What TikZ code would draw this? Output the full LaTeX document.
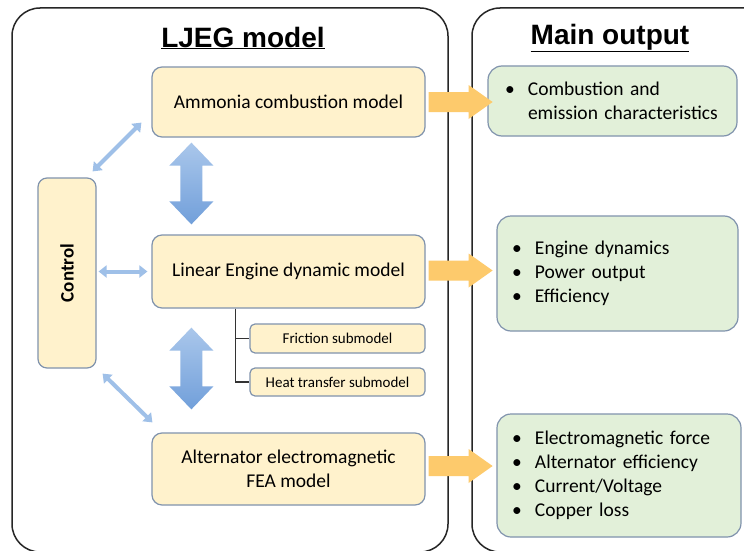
\documentclass[tikz,border=0pt]{standalone}
\usepackage{fontspec}
\setmainfont{Carlito}
\newfontfamily\titlefont{Liberation Sans}
\usetikzlibrary{calc,arrows.meta}
\definecolor{yfill}{HTML}{FFF2CC}
\definecolor{gfill}{HTML}{E2F0D9}
\definecolor{bordc}{HTML}{8093AD}
\definecolor{oarrc}{HTML}{FDCA6C}
\definecolor{btop}{HTML}{AAC7EB}
\definecolor{bbot}{HTML}{719FDA}
\definecolor{thinb}{HTML}{9FC0E8}
\definecolor{framec}{HTML}{262626}
\newcommand\bul{\makebox[23pt][l]{\textbullet}}
\newcommand\bigdarrow[2]{%
  \shade[top color=btop,bottom color=bbot] (#1) -- ($(#1)+(22,23)$) -- ($(#1)+(11,23)$) -- ($(#2)+(11,-23)$) -- ($(#2)+(22,-23)$) -- (#2) -- ($(#2)+(-22,-23)$) -- ($(#2)+(-11,-23)$) -- ($(#1)+(-11,23)$) -- ($(#1)+(-22,23)$) -- cycle;}
\tikzset{
  ybox/.style={draw=bordc,fill=yfill,line width=1.2pt,rounded corners=10pt,inner sep=0pt,align=center,font=\fontsize{19.5}{24}\selectfont},
  sbox/.style={draw=bordc,fill=yfill,line width=1.2pt,rounded corners=5pt,inner sep=0pt,font=\fontsize{15}{17}\selectfont},
  gbox/.style={draw=bordc,fill=gfill,line width=1.2pt,rounded corners=14pt,align=left,inner ysep=0pt,font=\fontsize{19.5}{24}\selectfont},
  frame/.style={draw=framec,line width=1.5pt,rounded corners=28pt},
  thinarrow/.style={draw=thinb,line width=4pt,{Triangle[width=12pt,length=8pt]}-{Triangle[width=12pt,length=8pt]}},
  conn/.style={draw=black!80,line width=1.2pt},
  title/.style={font=\titlefont\bfseries\fontsize{28}{32}\selectfont},
  oarr/.pic={\fill[oarrc] (0,-10) -- (40,-10) -- (40,-17) -- (64,0) -- (40,17) -- (40,10) -- (0,10) -- cycle;}
}
\begin{document}
\begin{tikzpicture}[x=1pt,y=-1pt]
\clip (0,0) rectangle (744,551);
\fill[white] (0,0) rectangle (744,551);
% frames
\draw[frame] (12,8) rectangle (448,552);
\draw[frame] (472,8) rectangle (780,552);
% titles
\node[title] (t1) at (243,38) {\underline{LJEG model}};
\node[title] (t2) at (610,38) {\underline{Main output}};
% model boxes
\node[ybox,minimum width=273pt,minimum height=70pt] (amm) at (288.5,102) {Ammonia combustion model};
\node[ybox,minimum width=273pt,minimum height=73pt] (lin) at (288.5,271.5) {Linear Engine dynamic model};
\node[ybox,minimum width=273pt,minimum height=72pt] (alt) at (288.5,469) {Alternator electromagnetic\\FEA model};
\node[ybox,minimum width=58pt,minimum height=190pt,rounded corners=9pt] (ctrl) at (67,273) {};
\node[font=\bfseries\fontsize{19}{24}\selectfont,rotate=90] (ctrlt) at (ctrl.center) {Control};
\node[sbox,minimum width=175pt,minimum height=29pt] (fric) at (337.5,338.5) {Friction submodel};
\node[sbox,minimum width=175pt,minimum height=28pt] (heat) at (337.5,382) {Heat transfer submodel};
% output boxes
\node[gbox,minimum width=249pt,minimum height=70pt,inner xsep=17pt,text width=215pt] (g1) at (612.5,101) {\bul Combustion and\\\hspace*{23pt}emission characteristics};
\node[gbox,minimum width=241pt,minimum height=115pt,inner xsep=15pt,text width=211pt] (g2) at (617.5,273.5) {\bul Engine dynamics\\\bul Power output\\\bul Efficiency};
\node[gbox,minimum width=244pt,minimum height=123pt,inner xsep=15pt,text width=214pt] (g3) at (619,475.5) {\bul Electromagnetic force\\\bul Alternator efficiency\\\bul Current/Voltage\\\bul Copper loss};
% submodel connectors
\coordinate (sub0) at ($(lin.south west)+(84,0)$);
\draw[conn] (sub0) |- (heat.west);
\draw[conn] (sub0) |- (fric.west);
% orange output arrows
\pic at ($(amm.east)+(3,0)$) {oarr};
\pic at ($(lin.east)+(3,-1)$) {oarr};
\pic at ($(alt.east)+(3,-3)$) {oarr};
% big blue double arrows
\coordinate (b1t) at ($(amm.south west)+(40,5)$);
\coordinate (b1b) at ($(lin.north west)+(40,-10)$);
\coordinate (b2t) at ($(lin.south west)+(40,19)$);
\coordinate (b2b) at ($(alt.north west)+(40,-23)$);
\bigdarrow{b1t}{b1b}
\bigdarrow{b2t}{b2b}
% thin control arrows
\draw[thinarrow] ($(ctrl.north east)+(-4,-6)$) -- ($(amm.south west)+(-10,-15)$);
\draw[thinarrow] ($(ctrl.east|-lin.west)+(2,0)$) -- ($(lin.west)+(-4,0)$);
\draw[thinarrow] ($(ctrl.south east)+(6,5)$) -- ($(alt.north west)+(1,-10)$);
\end{tikzpicture}
\end{document}
